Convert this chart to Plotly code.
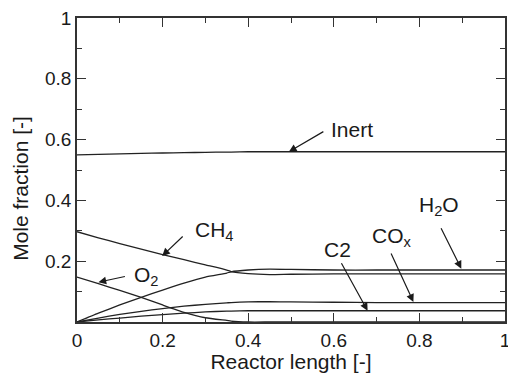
import plotly.graph_objects as go

# ---- data ----
x_pos = [0.0, 0.05, 0.1, 0.15, 0.2, 0.25, 0.3, 0.35, 0.36, 0.4, 0.45, 0.5, 0.6, 0.7, 0.8, 0.9, 1.0]
inert = [0.550, 0.5515, 0.553, 0.5545, 0.556, 0.557, 0.558, 0.559, 0.559, 0.560, 0.560, 0.560, 0.560, 0.560, 0.560, 0.560, 0.560]
ch4 = [0.297, 0.277, 0.258, 0.240, 0.222, 0.205, 0.188, 0.171, 0.166, 0.159, 0.156, 0.157, 0.158, 0.158, 0.158, 0.158, 0.158]
h2o = [0.0, 0.029, 0.056, 0.081, 0.105, 0.128, 0.148, 0.161, 0.165, 0.171, 0.174, 0.173, 0.171, 0.171, 0.171, 0.171, 0.171]
o2 = [0.148, 0.126, 0.104, 0.081, 0.056, 0.032, 0.014, 0.005, 0.003, 0.0, 0.0, 0.0, 0.0, 0.0, 0.0, 0.0, 0.0]
cox = [0.0, 0.013, 0.025, 0.035, 0.044, 0.052, 0.058, 0.063, 0.064, 0.066, 0.067, 0.066, 0.065, 0.064, 0.064, 0.064, 0.064]
c2 = [0.0, 0.007, 0.013, 0.019, 0.024, 0.029, 0.033, 0.036, 0.036, 0.037, 0.037, 0.037, 0.037, 0.037, 0.037, 0.037, 0.037]

series_names = ["Inert", "CH4", "H2O", "O2", "COx", "C2"]
series_vals = [inert, ch4, h2o, o2, cox, c2]

x_tickvals = [0, 0.2, 0.4, 0.6, 0.8, 1.0]
x_ticktext = ["0", "0.2", "0.4", "0.6", "0.8", "1"]
y_tickvals = [0.2, 0.4, 0.6, 0.8, 1.0]
y_ticktext = ["0.2", "0.4", "0.6", "0.8", "1"]

x_title = "Reactor length [-]"
y_title = "Mole fraction [-]"

# label text, text anchor (data coords), arrow tip (data coords), arrow tail offset (px)
labels = [
    ("Inert", 0.589, 0.632, 0.495, 0.560, 36, -21),
    ("CH<sub>4</sub>", 0.271, 0.300, 0.199, 0.217, 22, -21),
    ("O<sub>2</sub>", 0.1285, 0.152, 0.050, 0.131, 28, -6),
    ("C2", 0.572, 0.240, 0.679, 0.037, -27, -49),
    ("CO<sub>x</sub>", 0.685, 0.280, 0.786, 0.066, -23, -50),
    ("H<sub>2</sub>O", 0.794, 0.382, 0.898, 0.175, -21, -42),
]

FONT = "Liberation Sans, Arial, Helvetica, sans-serif"
INK = "#1a1a1a"
AX = "#333333"

fig = go.Figure()
for name, vals in zip(series_names, series_vals):
    fig.add_trace(go.Scatter(x=x_pos, y=vals, mode="lines", name=name,
                             line=dict(color="#222222", width=1.3, shape="spline", smoothing=0.5),
                             showlegend=False, hoverinfo="skip"))
# invisible trace so the mirrored (top/right) axes are drawn
fig.add_trace(go.Scatter(x=[0], y=[0], xaxis="x2", yaxis="y2", mode="markers",
                         marker=dict(opacity=0), showlegend=False, hoverinfo="skip"))

annotations = []
for text, tx, ty, hx, hy, ax, ay in labels:
    annotations.append(dict(x=tx, y=ty, xref="x", yref="y", text=text, showarrow=False,
                            xanchor="left", yanchor="middle",
                            font=dict(family=FONT, size=21, color=INK)))
    annotations.append(dict(x=hx, y=hy, xref="x", yref="y", text="", showarrow=True,
                            ax=ax, ay=ay, arrowhead=2, arrowsize=1.3, arrowwidth=1.2,
                            arrowcolor=INK, standoff=0))
# y-axis title (placed slightly below the axis centre, as in the reference)
annotations.append(dict(x=-0.131, y=0.441, xref="paper", yref="paper", text=y_title,
                        showarrow=False, textangle=-90, xanchor="center", yanchor="middle",
                        font=dict(family=FONT, size=21, color=INK)))

tick_common = dict(
    showgrid=False, zeroline=False, showline=True, linecolor=AX, linewidth=1.5,
    ticks="inside", ticklen=9, tickwidth=1.2, tickcolor=AX,
    tickfont=dict(family=FONT, size=19, color=INK),
    minor=dict(ticks="inside", ticklen=5, tickwidth=1.2, tickcolor=AX, dtick=0.1),
    range=[0, 1], fixedrange=True, automargin=False,
)

fig.update_layout(
    width=508, height=373,
    margin=dict(l=77, r=3, t=18, b=51, autoexpand=False),
    plot_bgcolor="white", paper_bgcolor="white",
    xaxis=dict(tickvals=x_tickvals, ticktext=x_ticktext, ticklabeloverflow="allow",
               title=dict(text=x_title, font=dict(family=FONT, size=21, color=INK), standoff=2),
               **tick_common),
    yaxis=dict(tickvals=y_tickvals, ticktext=y_ticktext, ticklabeloverflow="allow", **tick_common),
    xaxis2=dict(overlaying="x", side="top", tickvals=x_tickvals, showticklabels=False, **tick_common),
    yaxis2=dict(overlaying="y", side="right", tickvals=y_tickvals, showticklabels=False, **tick_common),
    annotations=annotations,
)

fig.write_html("out.html")
